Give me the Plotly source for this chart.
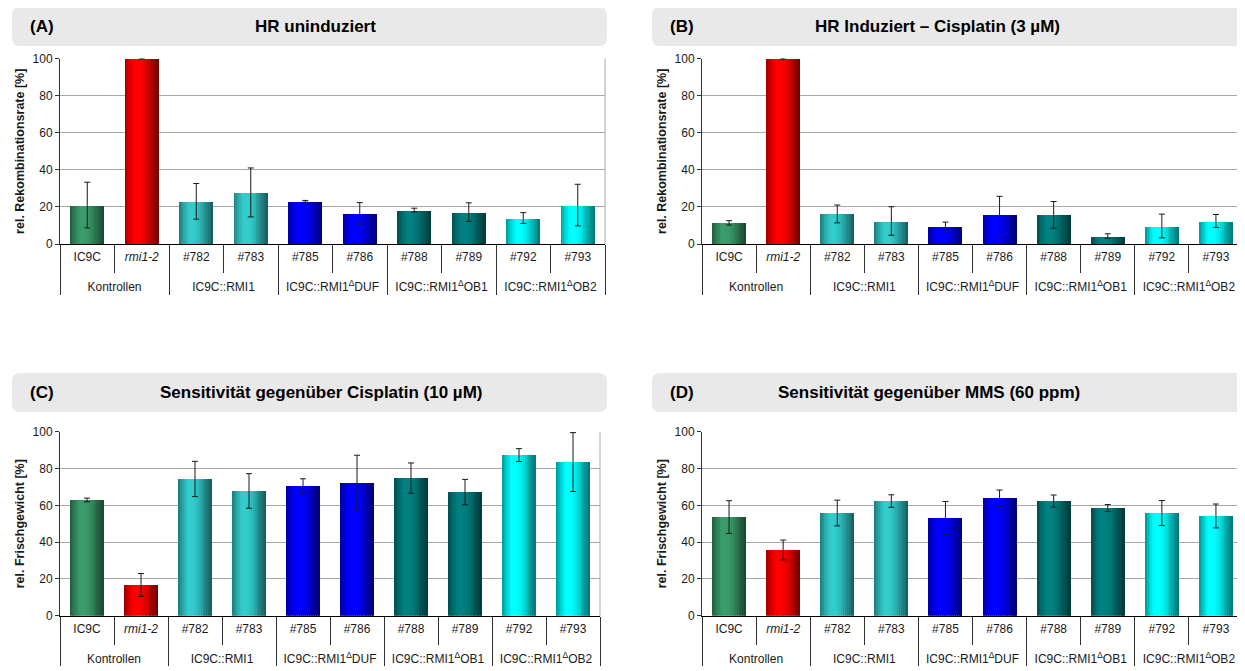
import plotly.graph_objects as go
import numpy as np

# ---------------- data ----------------
groups = ["Kontrollen", "Kontrollen", "IC9C::RMI1", "IC9C::RMI1",
          "IC9C::RMI1<sup>Δ</sup>DUF", "IC9C::RMI1<sup>Δ</sup>DUF",
          "IC9C::RMI1<sup>Δ</sup>OB1", "IC9C::RMI1<sup>Δ</sup>OB1",
          "IC9C::RMI1<sup>Δ</sup>OB2", "IC9C::RMI1<sup>Δ</sup>OB2"]
lines = ["IC9C", "<i>rmi1-2</i>", "#782", "#783", "#785", "#786",
         "#788", "#789", "#792", "#793"]

hr_uninduced = [21.0, 100, 23.0, 27.8, 23.0, 16.5, 18.3, 17.2, 14.0, 21.0]
hr_uninduced_err = [12.3, 0.3, 9.6, 13.2, 0.5, 5.8, 1.0, 5.0, 2.9, 11.2]

hr_cisplatin = [11.4, 100, 16.2, 12.4, 9.7, 15.7, 15.7, 4.3, 9.7, 12.4]
hr_cisplatin_err = [1.2, 0.3, 4.8, 7.7, 2.1, 10.0, 7.2, 1.2, 6.4, 3.5]

fw_cisplatin = [62.9, 16.7, 74.3, 67.8, 70.5, 72.1, 74.8, 67.2, 87.3, 83.5]
fw_cisplatin_err = [1.0, 6.2, 9.6, 9.4, 3.9, 15.1, 8.2, 6.9, 3.5, 16.0]

fw_mms = [53.6, 35.7, 55.8, 62.3, 53.1, 63.9, 62.3, 58.5, 55.8, 54.2]
fw_mms_err = [8.9, 5.4, 7.0, 3.4, 9.0, 4.4, 3.3, 1.9, 6.8, 6.5]

# ---------------- style ----------------
bright = [(58, 156, 106), (255, 0, 0), (51, 204, 204), (51, 204, 204),
          (0, 0, 255), (0, 0, 255), (0, 128, 128), (0, 128, 128),
          (0, 255, 255), (0, 255, 255)]
prof_t = [0.0, 0.12, 0.28, 0.45, 0.6, 0.75, 0.9, 1.0]
prof_f = [0.58, 0.8, 1.0, 1.0, 0.9, 0.72, 0.55, 0.45]
N_STRIPES = 18
BW = 0.63

# page body has an 8px margin: map reference pixels onto the figure
OFF = 8
W, H = 1245 - OFF, 671 - OFF
def px(x):
    return (x - OFF) / W
def py(y):
    return 1 - (y - OFF) / H

FONT = "Liberation Sans"

panels = [
    dict(xr=(60, 605), yr=(58.5, 244), vals=hr_uninduced, errs=hr_uninduced_err,
         ytitle="rel. Rekombinationsrate [%]", title="HR uninduziert", letter="(A)",
         box=(12, 607, 7, 46), tx=315, lx=28, ty=26),
    dict(xr=(702, 1243), yr=(58.5, 244), vals=hr_cisplatin, errs=hr_cisplatin_err,
         ytitle="rel. Rekombinationsrate [%]", title="HR Induziert – Cisplatin (3 µM)", letter="(B)",
         box=(652, 1262, 7, 46), tx=937, lx=668, ty=26),
    dict(xr=(60, 600), yr=(431.7, 615.7), vals=fw_cisplatin, errs=fw_cisplatin_err,
         ytitle="rel. Frischgewicht [%]", title="Sensitivität gegenüber Cisplatin (10 µM)", letter="(C)",
         box=(12, 607, 373, 412), tx=321, lx=28, ty=392),
    dict(xr=(702, 1243), yr=(431.7, 615.7), vals=fw_mms, errs=fw_mms_err,
         ytitle="rel. Frischgewicht [%]", title="Sensitivität gegenüber MMS (60 ppm)", letter="(D)",
         box=(652, 1262, 373, 412), tx=929, lx=668, ty=392),
]

def shade(c, f):
    return "rgb(%d,%d,%d)" % tuple(int(round(v * f)) for v in c)

def rounded_path(x0, x1, y0, y1, r=8):
    rx, ry = r / W, r / H
    X0, X1 = px(x0), px(x1)
    Yt, Yb = py(y0), py(y1)
    return (f"M {X0+rx},{Yt} L {X1-rx},{Yt} Q {X1},{Yt} {X1},{Yt-ry} "
            f"L {X1},{Yb+ry} Q {X1},{Yb} {X1-rx},{Yb} L {X0+rx},{Yb} "
            f"Q {X0},{Yb} {X0},{Yb+ry} L {X0},{Yt-ry} Q {X0},{Yt} {X0+rx},{Yt} Z")

# level-1 labels get an empty second line so the group row sits lower
disp_lines = [l + "<br>\u00a0" for l in lines]

fig = go.Figure()
layout = {}
shapes = []
annotations = []

for k, p in enumerate(panels, start=1):
    xa = "x" if k == 1 else f"x{k}"
    ya = "y" if k == 1 else f"y{k}"
    xkey = "xaxis" if k == 1 else f"xaxis{k}"
    ykey = "yaxis" if k == 1 else f"yaxis{k}"
    xcat = [groups, disp_lines]
    w = BW / N_STRIPES
    for i in range(N_STRIPES):
        t = (i + 0.5) / N_STRIPES
        f = float(np.interp(t, prof_t, prof_f))
        fig.add_trace(go.Bar(
            x=xcat, y=p["vals"], offset=-BW / 2 + i * w,
            width=w * (1.5 if i < N_STRIPES - 1 else 1.0),
            marker=dict(color=[shade(c, f) for c in bright], line=dict(width=0)),
            xaxis=xa, yaxis=ya, showlegend=False, hoverinfo="skip"))
    fig.add_trace(go.Scatter(
        x=xcat, y=p["vals"], mode="markers",
        marker=dict(size=1, color="rgba(0,0,0,0)"),
        error_y=dict(type="data", array=p["errs"], color="#1a1a1a", thickness=1, width=3),
        xaxis=xa, yaxis=ya, showlegend=False, hoverinfo="skip"))

    layout[xkey] = dict(
        domain=[px(p["xr"][0]), px(p["xr"][1])], anchor=ya,
        type="multicategory", range=[-0.5, 9.5],
        showline=True, linecolor="black", linewidth=1,
        ticks="outside", tickson="boundaries", ticklen=28, tickcolor="#333333",
        showdividers=True, dividercolor="#333333", dividerwidth=1,
        ticklabelstandoff=2,
        showgrid=False, tickfont=dict(family=FONT, size=12, color="#1a1a1a"),
        automargin=False)
    layout[ykey] = dict(
        domain=[py(p["yr"][1]), py(p["yr"][0])], anchor=xa,
        range=[0, 100], dtick=20, showgrid=True, gridcolor="#a8a8a8", gridwidth=1,
        showline=True, linecolor="#333333", linewidth=1, zeroline=False,
        ticks="outside", ticklen=4, tickcolor="#333333",
        tickfont=dict(family=FONT, size=12, color="#1a1a1a"),
        title=dict(text=p["ytitle"], standoff=5,
                   font=dict(family=FONT, size=12.5, color="#1a1a1a", weight="bold")),
        automargin=False)
    shapes.append(dict(type="line", xref=f"{xa} domain", yref=f"{ya} domain",
                       x0=1, x1=1, y0=0, y1=1, line=dict(color="#a8a8a8", width=1)))
    bx0, bx1, by0, by1 = p["box"]
    shapes.append(dict(type="path", xref="paper", yref="paper",
                       path=rounded_path(bx0, bx1, by0, by1),
                       fillcolor="#e9e9e9", line=dict(width=0), layer="below"))
    annotations.append(dict(xref="paper", yref="paper", x=px(p["lx"]), y=py(p["ty"]),
                            xanchor="left", yanchor="middle", showarrow=False,
                            text=p["letter"],
                            font=dict(family=FONT, size=17, color="black", weight="bold")))
    annotations.append(dict(xref="paper", yref="paper", x=px(p["tx"]), y=py(p["ty"]),
                            xanchor="center", yanchor="middle", showarrow=False,
                            text=p["title"],
                            font=dict(family=FONT, size=17, color="black", weight="bold")))

fig.update_layout(
    width=W, height=H, margin=dict(l=0, r=0, t=0, b=0),
    paper_bgcolor="white", plot_bgcolor="white",
    barmode="overlay", bargap=0,
    shapes=shapes, annotations=annotations, **layout)

fig.write_html("out.html")
